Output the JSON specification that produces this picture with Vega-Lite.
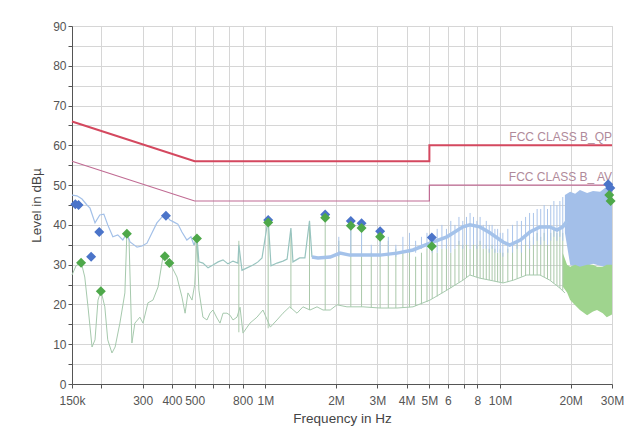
{
  "$schema": "https://vega.github.io/schema/vega-lite/v6.json",
  "width": 540,
  "height": 358,
  "autosize": {"type": "none"},
  "padding": {"left": 72, "top": 26, "right": 16, "bottom": 48},
  "background": "white",
  "config": {
    "view": {"stroke": "#cfcfcf"},
    "font": "Liberation Sans",
    "axis": {
      "gridColor": "#d6d6d6",
      "gridWidth": 1,
      "domainColor": "#555555",
      "tickColor": "#555555",
      "labelColor": "#555555",
      "titleColor": "#444444",
      "labelFontSize": 12,
      "titleFontSize": 13.5,
      "titleFontWeight": "normal",
      "tickSize": 4
    }
  },
  "datasets": {
    "peak": [
      {"f":150000,"v":47.5,"s":"a"},{"f":157500,"v":47.3,"s":"a"},{"f":165500,"v":46.5,"s":"a"},{"f":173700,"v":45.0,"s":"a"},{"f":179000,"v":44.2,"s":"a"},{"f":188000,"v":40.5,"s":"a"},{"f":197000,"v":42.5,"s":"a"},{"f":205000,"v":42.7,"s":"a"},{"f":213000,"v":40.0,"s":"a"},{"f":224000,"v":37.0,"s":"a"},{"f":235000,"v":37.5,"s":"a"},{"f":247000,"v":36.2,"s":"a"},{"f":257000,"v":38.0,"s":"a"},{"f":265000,"v":35.7,"s":"a"},{"f":284000,"v":34.4,"s":"a"},{"f":298000,"v":34.7,"s":"a"},{"f":313000,"v":35.4,"s":"a"},{"f":329000,"v":38.0,"s":"a"},{"f":345000,"v":40.5,"s":"a"},{"f":363000,"v":42.0,"s":"a"},{"f":377000,"v":42.5,"s":"a"},{"f":392000,"v":41.2,"s":"a"},{"f":408000,"v":40.7,"s":"a"},{"f":424000,"v":40.2,"s":"a"},{"f":441000,"v":38.2,"s":"a"},{"f":463000,"v":36.2,"s":"a"},{"f":482000,"v":37.0,"s":"a"},{"f":497000,"v":34.9,"s":"a"},
      {"f":497000,"v":34.9,"s":"b"},{"f":511000,"v":37.2,"s":"b"},{"f":521000,"v":30.7,"s":"b"},{"f":542000,"v":30.4,"s":"b"},{"f":570000,"v":29.2,"s":"b"},{"f":598000,"v":29.9,"s":"b"},{"f":629000,"v":30.7,"s":"b"},{"f":660000,"v":31.2,"s":"b"},{"f":693000,"v":30.2,"s":"b"},{"f":728000,"v":30.9,"s":"b"},{"f":764000,"v":30.4,"s":"b"},{"f":771000,"v":35.0,"s":"b"},{"f":795000,"v":28.6,"s":"b"},{"f":835000,"v":29.2,"s":"b"},{"f":886000,"v":29.9,"s":"b"},{"f":930000,"v":30.7,"s":"b"},{"f":968000,"v":31.7,"s":"b"},{"f":1028000,"v":41.5,"s":"b"},{"f":1057000,"v":29.7,"s":"b"},{"f":1121000,"v":30.4,"s":"b"},{"f":1189000,"v":30.9,"s":"b"},{"f":1238000,"v":31.4,"s":"b"},{"f":1285000,"v":39.2,"s":"b"},{"f":1311000,"v":30.7,"s":"b"},{"f":1400000,"v":31.7,"s":"b"},{"f":1474000,"v":31.7,"s":"b"},{"f":1542000,"v":41.0,"s":"b"},{"f":1580000,"v":31.9,"s":"b"},
      {"f":1580000,"v":31.9,"s":"c"},{"f":1676000,"v":31.7,"s":"c"},{"f":1890000,"v":31.9,"s":"c"},{"f":2080000,"v":32.9,"s":"c"},{"f":2290000,"v":32.4,"s":"c"},{"f":2607000,"v":32.4,"s":"c"},{"f":3080000,"v":32.4,"s":"c"},{"f":3639000,"v":32.9,"s":"c"},{"f":4257000,"v":33.7,"s":"c"},{"f":5030000,"v":35.4,"s":"c"},{"f":5940000,"v":37.0,"s":"c"},{"f":6950000,"v":39.5,"s":"c"},{"f":7440000,"v":40.0,"s":"c"},{"f":8210000,"v":39.5,"s":"c"},{"f":9050000,"v":38.0,"s":"c"},{"f":10300000,"v":35.7,"s":"c"},{"f":11000000,"v":34.9,"s":"c"},{"f":12200000,"v":36.2,"s":"c"},{"f":13400000,"v":38.2,"s":"c"},{"f":14800000,"v":39.5,"s":"c"},{"f":16300000,"v":39.5,"s":"c"},{"f":17500000,"v":38.7,"s":"c"},{"f":18500000,"v":39.5,"s":"c"},{"f":19300000,"v":41.0,"s":"c"}
    ],
    "avg": [
      {"f":150000,"v":27.4},{"f":156000,"v":29.7},{"f":164000,"v":30.7},{"f":170000,"v":26.9},{"f":175500,"v":19.4},{"f":182600,"v":9.3},{"f":188000,"v":11.1},{"f":193600,"v":21.1},{"f":199400,"v":23.4},{"f":207000,"v":19.4},{"f":213000,"v":11.1},{"f":222000,"v":7.8},{"f":229000,"v":9.3},{"f":240000,"v":15.3},{"f":252000,"v":22.9},{"f":257000,"v":38.0},{"f":262500,"v":36.2},{"f":270000,"v":10.3},{"f":278000,"v":15.3},{"f":292000,"v":16.8},{"f":301000,"v":15.3},{"f":316000,"v":20.4},{"f":332000,"v":21.1},{"f":349000,"v":24.4},{"f":366000,"v":31.9},{"f":377000,"v":32.2},{"f":392000,"v":30.4},{"f":420000,"v":26.9},{"f":441000,"v":21.9},{"f":455000,"v":17.8},{"f":468000,"v":22.9},{"f":487000,"v":21.1},{"f":500000,"v":25.0},{"f":511000,"v":36.7},{"f":521000,"v":23.6},{"f":542000,"v":16.8},{"f":564000,"v":16.1},{"f":581000,"v":17.8},{"f":598000,"v":18.6},{"f":622000,"v":16.6},{"f":641000,"v":15.3},{"f":660000,"v":17.8},{"f":686000,"v":17.8},{"f":707000,"v":17.3},{"f":728000,"v":16.1},{"f":757000,"v":16.8},{"f":780000,"v":19.3},{"f":803000,"v":12.8},{"f":860000,"v":15.3},{"f":921000,"v":16.8},{"f":977000,"v":18.6},{"f":1050000,"v":14.3},{"f":1121000,"v":16.1},{"f":1189000,"v":17.8},{"f":1270000,"v":19.4},{"f":1364000,"v":17.8},{"f":1446000,"v":19.4},{"f":1550000,"v":18.6},{"f":1660000,"v":19.4},{"f":1761000,"v":18.6},{"f":1890000,"v":18.6},{"f":2019000,"v":19.9},{"f":2227000,"v":19.4},{"f":2607000,"v":19.4},{"f":3080000,"v":19.1},{"f":3639000,"v":19.1},{"f":4257000,"v":19.4},{"f":5030000,"v":21.1},{"f":5940000,"v":23.6},{"f":6950000,"v":26.1},{"f":7440000,"v":27.4},{"f":8210000,"v":26.6},{"f":9050000,"v":26.1},{"f":10300000,"v":25.4},{"f":11400000,"v":26.1},{"f":13000000,"v":27.4},{"f":14800000,"v":27.4},{"f":16300000,"v":26.1},{"f":18000000,"v":24.1},{"f":18900000,"v":22.9}
    ],
    "spikes": [
      {"f":771000,"v":13,"v2":36,"s":"g"},{"f":1028000,"v":14,"v2":40.7,"s":"g"},{"f":1285000,"v":19,"v2":38,"s":"g"},{"f":1542000,"v":18.6,"v2":40,"s":"g"},{"f":1799000,"v":18.6,"v2":42,"s":"g"},{"f":2056000,"v":19.9,"v2":36,"s":"g"},{"f":2313000,"v":19.4,"v2":40,"s":"g"},{"f":2570000,"v":19.4,"v2":39,"s":"g"},{"f":2827000,"v":19.2,"v2":33,"s":"g"},{"f":3084000,"v":19.1,"v2":37,"s":"g"},{"f":3341000,"v":19.1,"v2":36,"s":"g"},{"f":3598000,"v":19.1,"v2":34,"s":"g"},{"f":3855000,"v":19.2,"v2":33,"s":"g"},{"f":4112000,"v":19.3,"v2":34,"s":"g"},{"f":4369000,"v":19.6,"v2":32,"s":"g"},{"f":4626000,"v":20,"v2":33,"s":"g"},{"f":4883000,"v":20.6,"v2":34,"s":"g"},{"f":5140000,"v":21.4,"v2":35,"s":"g"},{"f":5397000,"v":22,"v2":33,"s":"g"},{"f":5654000,"v":22.8,"v2":34,"s":"g"},{"f":5911000,"v":23.5,"v2":35,"s":"g"},{"f":6168000,"v":24.1,"v2":33,"s":"g"},{"f":6425000,"v":24.8,"v2":34,"s":"g"},{"f":6682000,"v":25.5,"v2":36,"s":"g"},{"f":6939000,"v":26.1,"v2":35,"s":"g"},{"f":7196000,"v":26.8,"v2":36,"s":"g"},{"f":7453000,"v":27.4,"v2":34,"s":"g"},{"f":7710000,"v":27.2,"v2":36,"s":"g"},{"f":7967000,"v":26.8,"v2":35,"s":"g"},{"f":8224000,"v":26.6,"v2":36,"s":"g"},{"f":8481000,"v":26.4,"v2":34,"s":"g"},{"f":8738000,"v":26.3,"v2":35,"s":"g"},{"f":8995000,"v":26.1,"v2":34,"s":"g"},{"f":9252000,"v":26,"v2":35,"s":"g"},{"f":9509000,"v":25.8,"v2":34,"s":"g"},{"f":9766000,"v":25.6,"v2":33,"s":"g"},{"f":10023000,"v":25.5,"v2":34,"s":"g"},{"f":10280000,"v":25.4,"v2":33,"s":"g"},{"f":10794000,"v":25.6,"v2":34,"s":"g"},{"f":11308000,"v":26,"v2":35,"s":"g"},{"f":11822000,"v":26.5,"v2":36,"s":"g"},{"f":12336000,"v":27,"v2":35,"s":"g"},{"f":12850000,"v":27.3,"v2":37,"s":"g"},{"f":13364000,"v":27.4,"v2":36,"s":"g"},{"f":13878000,"v":27.4,"v2":37,"s":"g"},{"f":14392000,"v":27.4,"v2":38,"s":"g"},{"f":14906000,"v":27.3,"v2":37,"s":"g"},{"f":15420000,"v":26.9,"v2":38,"s":"g"},{"f":15934000,"v":26.4,"v2":37,"s":"g"},{"f":16448000,"v":26,"v2":38,"s":"g"},{"f":16962000,"v":25.3,"v2":39,"s":"g"},{"f":17476000,"v":24.7,"v2":38,"s":"g"},{"f":17990000,"v":24.1,"v2":39,"s":"g"},{"f":18504000,"v":23.5,"v2":38,"s":"g"},
      {"f":2056000,"v":32,"v2":37,"s":"b"},{"f":2313000,"v":32,"v2":41,"s":"b"},{"f":2570000,"v":32,"v2":40,"s":"b"},{"f":2827000,"v":32,"v2":35,"s":"b"},{"f":3084000,"v":32,"v2":38.4,"s":"b"},{"f":3341000,"v":32,"v2":37,"s":"b"},{"f":3598000,"v":32,"v2":35,"s":"b"},{"f":3855000,"v":33,"v2":37,"s":"b"},{"f":4112000,"v":33,"v2":38,"s":"b"},{"f":4369000,"v":33,"v2":36,"s":"b"},{"f":4626000,"v":34,"v2":37,"s":"b"},{"f":4883000,"v":34,"v2":38,"s":"b"},{"f":5140000,"v":33,"v2":37,"s":"b"},{"f":5397000,"v":33,"v2":39,"s":"b"},{"f":5654000,"v":34,"v2":40,"s":"b"},{"f":5911000,"v":34,"v2":39,"s":"b"},{"f":6168000,"v":33,"v2":41,"s":"b"},{"f":6425000,"v":34,"v2":40,"s":"b"},{"f":6682000,"v":35,"v2":42,"s":"b"},{"f":6939000,"v":34,"v2":41,"s":"b"},{"f":7196000,"v":35,"v2":42,"s":"b"},{"f":7453000,"v":34,"v2":43,"s":"b"},{"f":7710000,"v":35,"v2":42,"s":"b"},{"f":7967000,"v":34,"v2":41,"s":"b"},{"f":8224000,"v":35,"v2":42,"s":"b"},{"f":8481000,"v":34,"v2":40,"s":"b"},{"f":8738000,"v":34,"v2":41,"s":"b"},{"f":8995000,"v":33,"v2":40,"s":"b"},{"f":9252000,"v":34,"v2":40,"s":"b"},{"f":9509000,"v":33,"v2":39,"s":"b"},{"f":9766000,"v":33,"v2":39,"s":"b"},{"f":10023000,"v":33,"v2":38,"s":"b"},{"f":10280000,"v":32,"v2":38,"s":"b"},{"f":10794000,"v":33,"v2":39,"s":"b"},{"f":11308000,"v":33,"v2":40,"s":"b"},{"f":11822000,"v":34,"v2":41,"s":"b"},{"f":12336000,"v":33,"v2":41,"s":"b"},{"f":12850000,"v":35,"v2":42,"s":"b"},{"f":13364000,"v":34,"v2":43,"s":"b"},{"f":13878000,"v":35,"v2":43,"s":"b"},{"f":14392000,"v":36,"v2":44,"s":"b"},{"f":14906000,"v":35,"v2":44,"s":"b"},{"f":15420000,"v":36,"v2":45,"s":"b"},{"f":15934000,"v":35,"v2":44,"s":"b"},{"f":16448000,"v":36,"v2":45,"s":"b"},{"f":16962000,"v":37,"v2":46,"s":"b"},{"f":17476000,"v":36,"v2":45,"s":"b"},{"f":17990000,"v":37,"v2":46,"s":"b"},{"f":18504000,"v":36,"v2":47,"s":"b"}
    ],
    "fill": [
      {"f":18900000,"v":47.5,"v2":38,"s":"b"},{"f":19900000,"v":48.3,"v2":30,"s":"b"},{"f":20900000,"v":47.8,"v2":29.5,"s":"b"},{"f":21900000,"v":48.8,"v2":29.2,"s":"b"},{"f":23500000,"v":48.0,"v2":29.7,"s":"b"},{"f":24900000,"v":48.5,"v2":30.2,"s":"b"},{"f":26700000,"v":48.3,"v2":29.7,"s":"b"},{"f":28000000,"v":49.3,"v2":29.4,"s":"b"},{"f":29400000,"v":49.8,"v2":29.2,"s":"b"},{"f":30000000,"v":49.5,"v2":29.2,"s":"b"},
      {"f":18500000,"v":33,"v2":24.5,"s":"g"},{"f":19300000,"v":30,"v2":23,"s":"g"},{"f":19900000,"v":29.5,"v2":21.1,"s":"g"},{"f":20900000,"v":30,"v2":19.8,"s":"g"},{"f":21900000,"v":29.5,"v2":18.6,"s":"g"},{"f":23500000,"v":30,"v2":17.3,"s":"g"},{"f":24900000,"v":30,"v2":18.2,"s":"g"},{"f":25900000,"v":29.5,"v2":18.6,"s":"g"},{"f":27400000,"v":29.5,"v2":17.8,"s":"g"},{"f":28500000,"v":30,"v2":16.8,"s":"g"},{"f":30000000,"v":30,"v2":17.5,"s":"g"}
    ],
    "limits": [
      {"f":150000,"v":66,"s":"QP","i":0},{"f":500000,"v":56,"s":"QP","i":1},{"f":5000000,"v":56,"s":"QP","i":2},{"f":5000000,"v":60,"s":"QP","i":3},{"f":30000000,"v":60,"s":"QP","i":4},
      {"f":150000,"v":56,"s":"AV","i":0},{"f":500000,"v":46,"s":"AV","i":1},{"f":5000000,"v":46,"s":"AV","i":2},{"f":5000000,"v":50,"s":"AV","i":3},{"f":30000000,"v":50,"s":"AV","i":4}
    ],
    "labels": [
      {"f":30000000,"v":60,"t":"FCC CLASS B_QP"},
      {"f":30000000,"v":50,"t":"FCC CLASS B_ AV"}
    ],
    "marks": [
      {"f":155000,"v":45.2,"s":"QP"},{"f":160000,"v":45.0,"s":"QP"},{"f":181000,"v":32.0,"s":"QP"},{"f":196000,"v":38.2,"s":"QP"},{"f":377000,"v":42.3,"s":"QP"},{"f":1028000,"v":41.2,"s":"QP"},{"f":1799000,"v":42.6,"s":"QP"},{"f":2313000,"v":41.0,"s":"QP"},{"f":2570000,"v":40.4,"s":"QP"},{"f":3084000,"v":38.4,"s":"QP"},{"f":5120000,"v":36.8,"s":"QP"},{"f":28900000,"v":50.2,"s":"QP"},{"f":29500000,"v":49.3,"s":"QP"},
      {"f":164000,"v":30.5,"s":"AV"},{"f":199000,"v":23.3,"s":"AV"},{"f":257000,"v":37.8,"s":"AV"},{"f":373000,"v":32.1,"s":"AV"},{"f":390000,"v":30.4,"s":"AV"},{"f":511000,"v":36.6,"s":"AV"},{"f":1028000,"v":40.6,"s":"AV"},{"f":1799000,"v":41.8,"s":"AV"},{"f":2313000,"v":39.8,"s":"AV"},{"f":2570000,"v":39.2,"s":"AV"},{"f":3084000,"v":37.0,"s":"AV"},{"f":5120000,"v":34.6,"s":"AV"},{"f":29200000,"v":47.5,"s":"AV"},{"f":29600000,"v":46.0,"s":"AV"}
    ]
  },
  "encoding": {
    "x": {
      "field": "f",
      "type": "quantitative",
      "scale": {"type": "log", "domain": [150000, 30000000]},
      "axis": {
        "title": "Frequency in Hz",
        "values": [150000,200000,300000,400000,500000,600000,700000,800000,1000000,2000000,3000000,4000000,5000000,6000000,7000000,8000000,10000000,20000000,30000000],
        "labelExpr": "datum.value==150000?'150k':datum.value==300000?'300':datum.value==400000?'400':datum.value==500000?'500':datum.value==800000?'800':datum.value==1000000?'1M':datum.value==2000000?'2M':datum.value==3000000?'3M':datum.value==4000000?'4M':datum.value==5000000?'5M':datum.value==6000000?'6':datum.value==8000000?'8':datum.value==10000000?'10M':datum.value==20000000?'20M':datum.value==30000000?'30M':''",
        "labelFlush": false,
        "labelOverlap": false,
        "labelPadding": 7,
        "titlePadding": 5,
        "grid": true
      }
    },
    "y": {
      "field": "v",
      "type": "quantitative",
      "scale": {"domain": [0, 90], "nice": false},
      "axis": {
        "title": "Level in dBµ",
        "values": [0,5,10,15,20,25,30,35,40,45,50,55,60,65,70,75,80,85,90],
        "labelExpr": "datum.value % 10 == 0 ? datum.label : ''",
        "labelPadding": 2,
        "titlePadding": 9,
        "grid": true
      }
    }
  },
  "layer": [
    {
      "data": {"name": "fill"},
      "transform": [{"filter": "datum.s == 'b'"}],
      "mark": {"type": "area", "color": "#a3bfe9", "opacity": 1},
      "encoding": {"y2": {"field": "v2"}}
    },
    {
      "data": {"name": "fill"},
      "transform": [{"filter": "datum.s == 'g'"}],
      "mark": {"type": "area", "color": "#9fd48e", "opacity": 1},
      "encoding": {"y2": {"field": "v2"}}
    },
    {
      "data": {"name": "spikes"},
      "transform": [{"filter": "datum.s == 'g'"}],
      "mark": {"type": "rule", "color": "#aac8aa", "strokeWidth": 1},
      "encoding": {"y2": {"field": "v2"}}
    },
    {
      "data": {"name": "avg"},
      "mark": {"type": "line", "color": "#a6c9ad", "strokeWidth": 1},
      "encoding": {}
    },
    {
      "data": {"name": "spikes"},
      "transform": [{"filter": "datum.s == 'b'"}],
      "mark": {"type": "rule", "color": "#abc5ea", "strokeWidth": 1},
      "encoding": {"y2": {"field": "v2"}}
    },
    {
      "data": {"name": "peak"},
      "transform": [{"filter": "datum.s == 'a'"}],
      "mark": {"type": "line", "color": "#a3c0e8", "strokeWidth": 1.2},
      "encoding": {}
    },
    {
      "data": {"name": "peak"},
      "transform": [{"filter": "datum.s == 'b'"}],
      "mark": {"type": "line", "color": "#98c4bf", "strokeWidth": 1.2},
      "encoding": {}
    },
    {
      "data": {"name": "peak"},
      "transform": [{"filter": "datum.s == 'c'"}],
      "mark": {"type": "line", "color": "#a4c2ea", "strokeWidth": 3.5},
      "encoding": {}
    },
    {
      "data": {"name": "limits"},
      "transform": [{"filter": "datum.s == 'QP'"}],
      "mark": {"type": "line", "color": "#d4485f", "strokeWidth": 2},
      "encoding": {"order": {"field": "i"}}
    },
    {
      "data": {"name": "limits"},
      "transform": [{"filter": "datum.s == 'AV'"}],
      "mark": {"type": "line", "color": "#c06b93", "strokeWidth": 1.2},
      "encoding": {"order": {"field": "i"}}
    },
    {
      "data": {"name": "labels"},
      "mark": {"type": "text", "align": "right", "baseline": "bottom", "dy": -1, "fontSize": 12, "color": "#b08a9a"},
      "encoding": {"text": {"field": "t"}}
    },
    {
      "data": {"name": "marks"},
      "mark": {"type": "point", "shape": "diamond", "filled": true, "size": 100, "opacity": 1},
      "encoding": {
        "color": {"field": "s", "type": "nominal", "scale": {"domain": ["QP", "AV"], "range": ["#4b74c9", "#4ea84a"]}, "legend": null}
      }
    }
  ]
}
